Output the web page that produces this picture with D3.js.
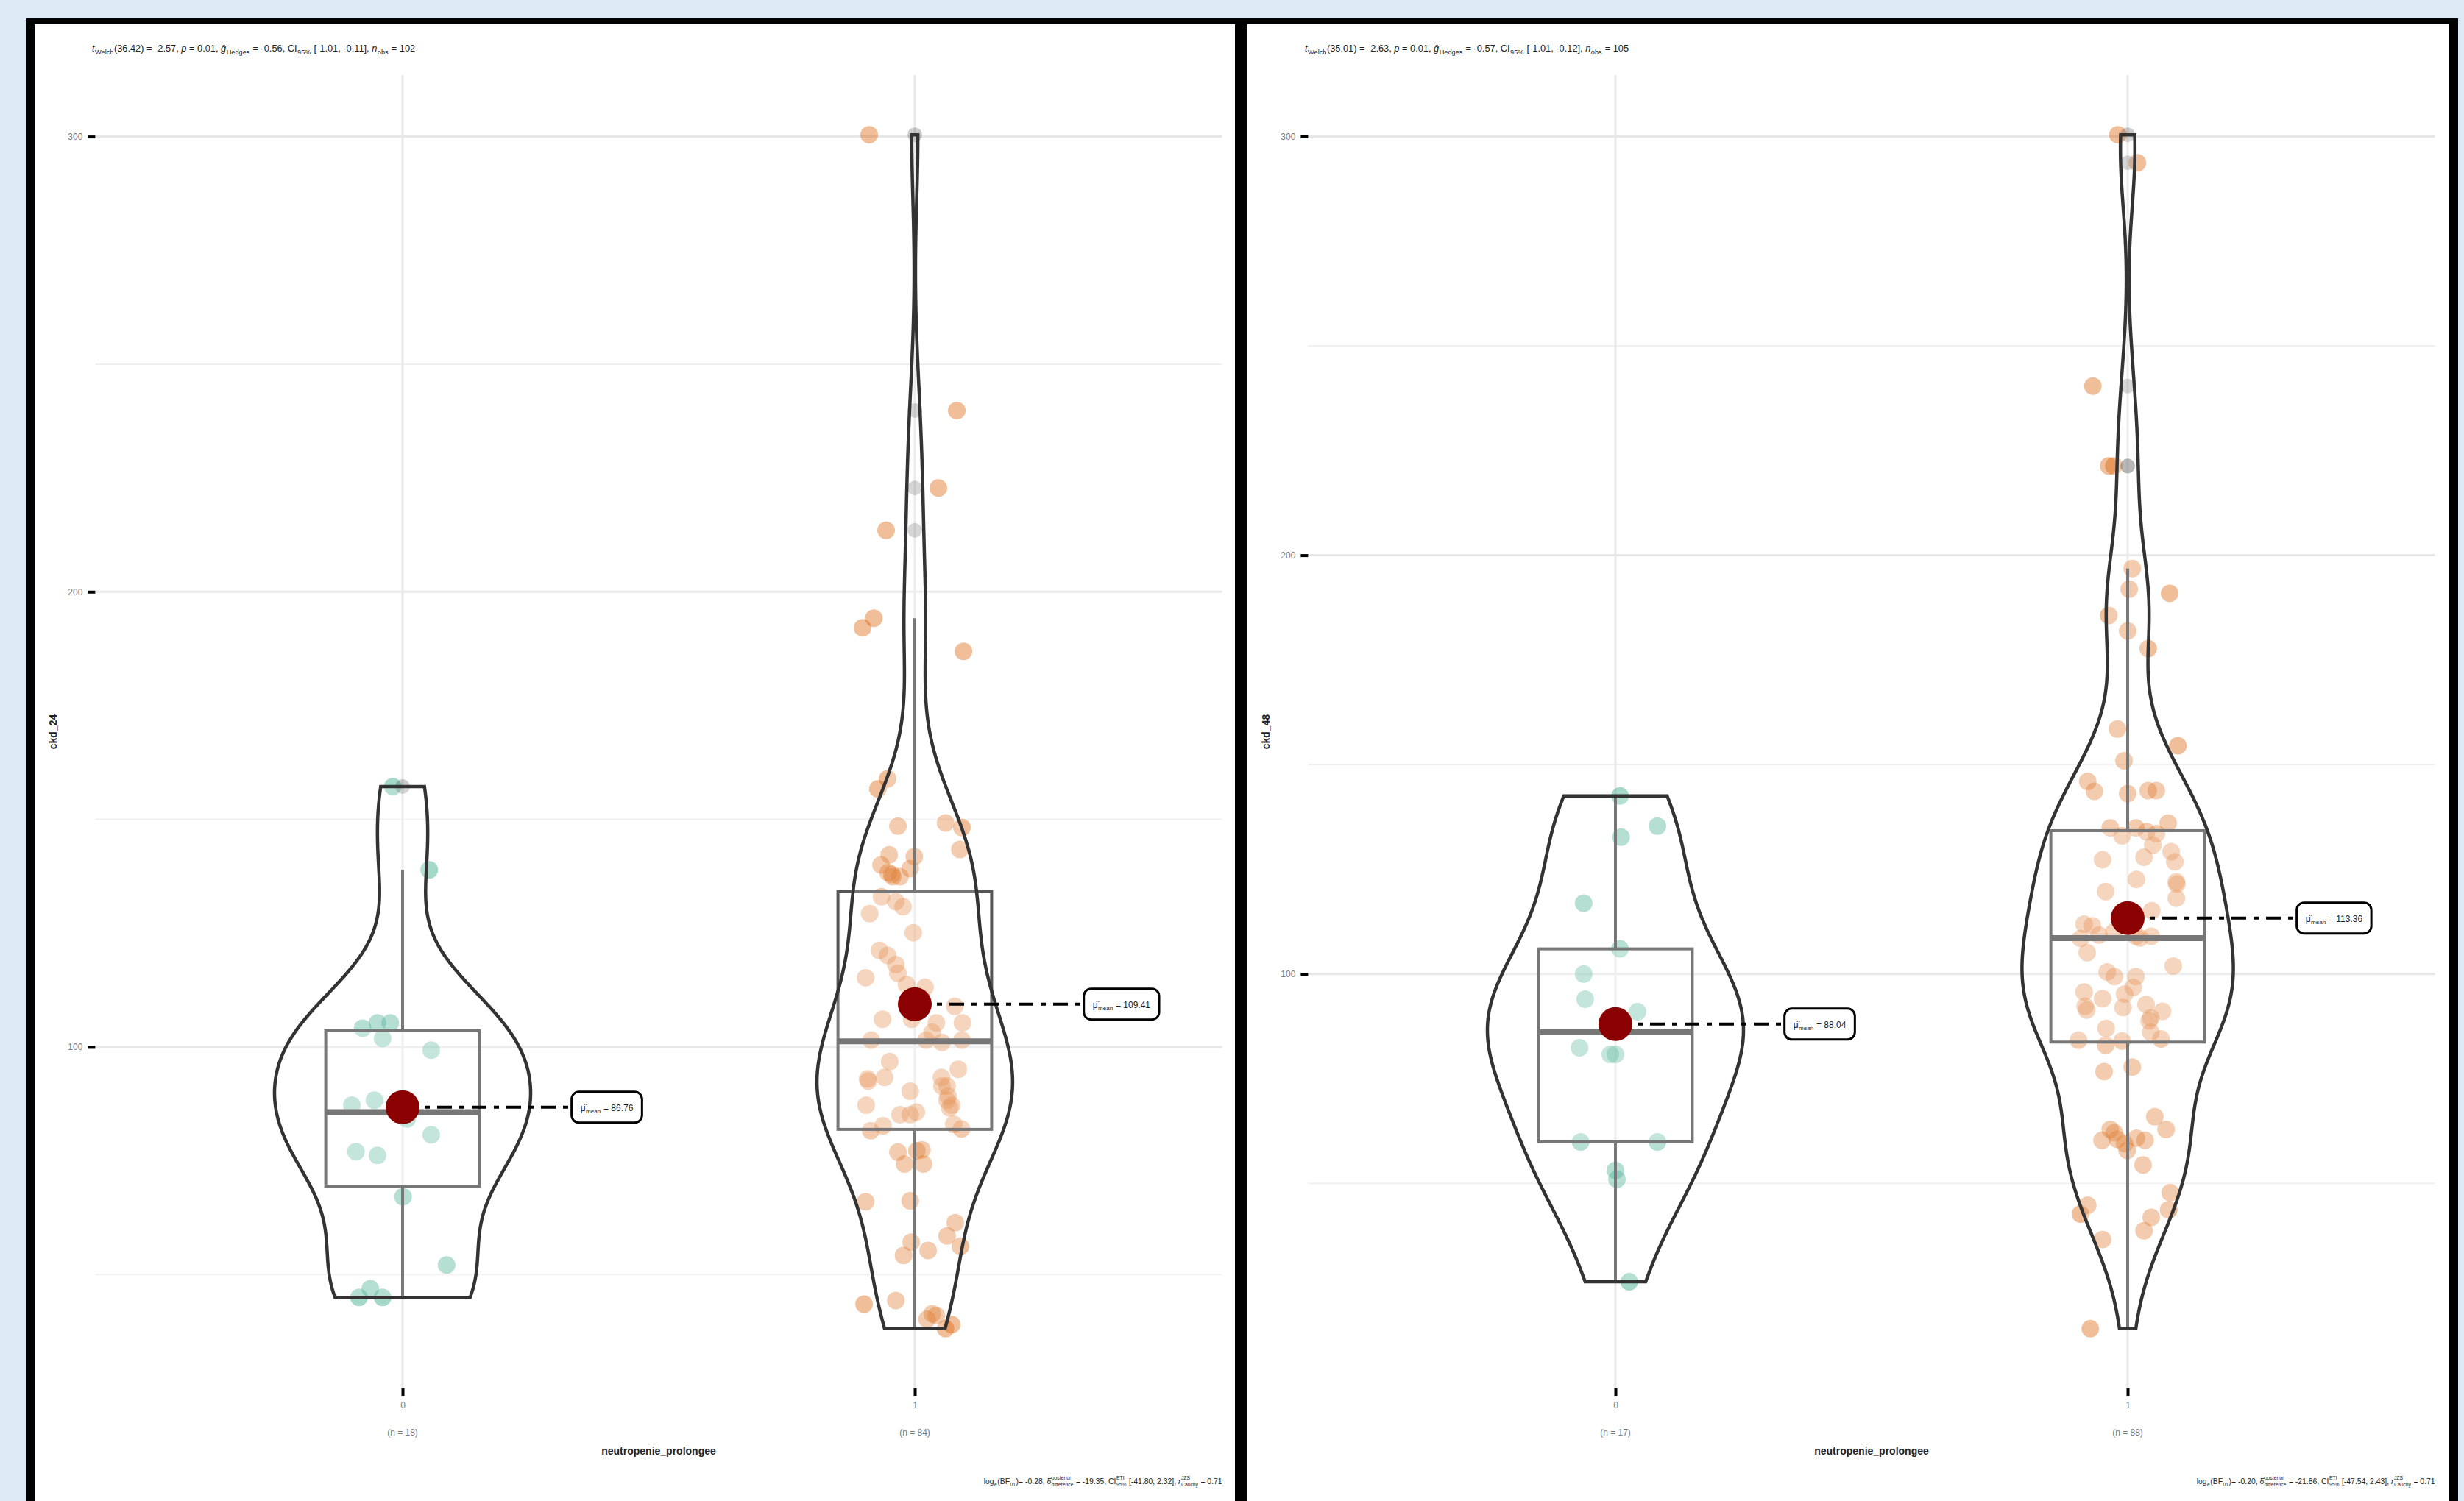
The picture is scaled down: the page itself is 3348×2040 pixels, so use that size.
<!DOCTYPE html>
<html>
<head>
<meta charset="utf-8">
<script src="https://cdn.jsdelivr.net/npm/d3@7"></script>
<style>
body { margin:0; background:#dde9f5; }
svg { display:block; }
text { white-space: pre; }
</style>
</head>
<body>
<script>
var W = 3348, H = 2040;

// ---- data ----
var groupLabels = ["0", "1"];
var groupColors = ["#1B9E77", "#D95F02"];
var xTitle = "neutropenie_prolongee";
var yTitles = ["ckd_24", "ckd_48"];
var yMajor = [100, 200, 300];
var yMinor = [50, 150, 250];

// ckd_24, group 0 / 1 (value, jitter in category units)
var ckd24_g0 = [157.2, 138.9, 104.1, 105.3, 105.3, 101.9, 99.3, 87.2, 88.3, 84.2, 80.7, 77.0, 76.2, 67.1, 52.1, 46.9, 45.0, 45.0];
var ckd24_g0_jit = [-0.019, 0.052, -0.078, -0.049, -0.024, -0.039, 0.056, -0.099, -0.055, 0.009, 0.056, -0.091, -0.049, 0.001, 0.086, -0.063, -0.085, -0.039];
var ckd24_g1 = [300.4, 239.8, 222.8, 213.5, 194.2, 192.1, 186.9,
  158.9, 156.7, 148.5, 149.2, 148.2, 143.4, 142.2, 141.8, 140.0, 138.3, 137.4, 137.4, 139.2, 137.9,
  133.0, 129.3, 130.8, 131.9, 125.1, 121.2, 120.1, 118.1, 116.2, 115.2, 113.7, 113.1, 108.9, 105.3, 105.3, 106.1, 106.1, 101.5, 101.5, 101.5, 103.2,
  101.0, 96.8, 93.0, 93.3, 93.3, 95.1, 91.4, 91.4, 92.5, 89.2, 90.3, 88.3, 87.2, 87.2, 86.6, 85.7, 85.1, 85.1, 83.0, 82.7,
  82.0, 81.6, 76.9, 77.2, 77.4, 74.3, 74.3, 66.0, 66.2, 61.4, 58.5, 56.2, 57.1, 55.3, 54.2, 43.5, 44.3, 41.4, 40.2, 41.0, 38.1, 39.0];
var ckd24_g1_jit = [-0.089, 0.082, 0.046, -0.056, -0.080, -0.102, 0.095,
  -0.053, -0.072, -0.033, 0.060, 0.092, 0.088, -0.050, -0.001, -0.066, -0.052, -0.043, -0.029, -0.009, -0.045,
  -0.065, -0.088, -0.023, -0.037, -0.003, -0.069, -0.053, -0.037, -0.033, -0.096, -0.016, 0.020, 0.078, 0.093, 0.042, -0.063, -0.006, -0.085, 0.022, 0.092, 0.034,
  0.053, -0.049, -0.092, -0.059, 0.052, 0.085, 0.063, 0.053, -0.091, 0.065, -0.009, 0.063, -0.095, 0.072, 0.068, 0.003, -0.029, -0.009, 0.076, -0.062,
  0.091, -0.086, -0.033, 0.004, 0.014, -0.020, 0.017, -0.096, -0.009, 0.079, 0.063, 0.089, -0.007, 0.026, -0.022, -0.099, -0.037, 0.034, 0.024, 0.042, 0.060, 0.072];

// ckd_48, group 0 / 1
var ckd48_g0 = [142.5, 132.7, 135.3, 116.9, 100.0, 106.0, 94.0, 91.0, 82.4, 80.8, 80.8, 59.9, 59.9, 53.1, 51.0, 26.5, 86.1];
var ckd48_g0_jit = [0.009, 0.011, 0.082, -0.062, -0.062, 0.009, -0.059, 0.043, -0.070, -0.010, 0.000, -0.068, 0.082, 0.000, 0.003, 0.027, 0.006];
var ckd48_g1 = [300.4, 293.7, 240.4, 221.3, 221.3, 196.8, 191.9, 190.9, 185.6, 181.9, 177.7,
  158.5, 154.5, 150.9, 146.0, 143.6, 143.1, 143.8, 143.8,
  134.9, 133.0, 134.9, 134.0, 133.5, 136.0,
  130.8, 127.9, 129.2, 126.8, 127.3, 122.0, 118.1, 122.6, 119.7, 115.1,
  111.9, 111.5, 109.3, 108.5, 105.1, 109.0, 109.0, 101.9, 100.5, 99.4,
  99.4, 96.8, 95.7, 94.1, 95.2, 92.0, 91.4, 92.7, 91.1, 88.8,
  87.0, 86.1, 84.5, 84.0, 84.2, 83.0, 76.7, 77.8, 65.9, 62.9,
  62.9, 62.1, 60.3, 60.8, 60.3, 59.5, 57.9, 54.4, 44.8, 42.7,
  47.8, 43.7, 41.9, 38.7, 36.6, 15.3,
  113.5, 121.5, 110.0, 108.6, 60.5, 92.3, 89.5];
var ckd48_g1_jit = [-0.019, 0.019, -0.068, -0.037, -0.027, 0.009, 0.003, 0.082, -0.037, 0.000, 0.040,
  -0.020, 0.098, -0.007, -0.078, -0.065, 0.000, 0.040, 0.056,
  -0.034, -0.011, 0.016, 0.037, 0.056, 0.079,
  0.049, 0.032, 0.085, 0.092, -0.049, 0.095, 0.095, 0.017, -0.043, 0.047,
  -0.085, -0.069, -0.056, -0.092, -0.079, 0.016, 0.046, 0.089, -0.040, -0.026,
  0.016, 0.011, -0.085, -0.049, -0.006, -0.009, -0.080, 0.036, 0.068, 0.042,
  -0.042, 0.045, 0.065, -0.011, -0.096, -0.043, -0.046, 0.009, 0.053, 0.075,
  -0.034, -0.026, -0.050, 0.017, 0.034, -0.006, -0.001, 0.030, -0.078, -0.092,
  0.083, 0.080, 0.046, 0.032, -0.049, -0.073,
  0.000, 0.096, -0.027, 0.024, -0.020, -0.083, 0.045];

// group means as printed in the labels
var means24 = [86.76, 109.41];
var means48 = [88.04, 113.36];

// test statistics (subtitle / caption)
var welchDf = [36.42, 35.01];
var tStat = [-2.57, -2.63];
var pValue = [0.01, 0.01];
var hedgesG = [-0.56, -0.57];
var ciLow = [-1.01, -1.01];
var ciHigh = [-0.11, -0.12];
var nObs = [102, 105];
var logBF = [-0.28, -0.20];
var deltaPost = [-19.35, -21.86];
var ciBLow = [-41.80, -47.54];
var ciBHigh = [2.32, 2.43];
var rCauchy = [0.71, 0.71];

// ---- layout ----
var panelOffsets = [0, 1648];
var plotLeft = 129.4, plotRight = 1660.6, plotTop = 102, plotBottom = 1887;
var narrow = "'Liberation Sans Narrow', 'Arial Narrow', sans-serif";
var sans = "'Liberation Sans', Arial, sans-serif";

var svg = d3.select("body").append("svg").attr("width", W).attr("height", H);
svg.append("rect").attr("width", W).attr("height", H).attr("fill", "#dde9f5");
svg.append("rect").attr("x", 36).attr("y", 25).attr("width", 3304).attr("height", H).attr("fill", "#000");
panelOffsets.forEach(function(o, i){
  svg.append("rect").attr("x", 47 + o).attr("y", 33).attr("width", i == 0 ? 1631 : 1633).attr("height", H).attr("fill", "#fff");
});

function f2(v){ return v.toFixed(2); }

// rich text: segments laid out one after another, sub/sup stacked after the main text
function richText(g, segs, x, y, size, small, family, color, anchorRight){
  var t = g.append("g");
  var cur = 0;
  segs.forEach(function(s){
    var w = 0;
    if (s.t){
      var el = t.append("text").attr("x", cur).attr("y", 0).text(s.t)
        .attr("font-size", size).attr("font-family", family).attr("fill", color)
        .attr("font-style", s.it ? "italic" : "normal");
      w = el.node().getComputedTextLength();
    }
    cur += w;
    var ws = 0;
    if (s.sub){
      var e1 = t.append("text").attr("x", cur + 0.5).attr("y", size * 0.3).text(s.sub)
        .attr("font-size", small).attr("font-family", family).attr("fill", color);
      ws = Math.max(ws, e1.node().getComputedTextLength());
    }
    if (s.sup){
      var e2 = t.append("text").attr("x", cur + 0.5).attr("y", -size * 0.55).text(s.sup)
        .attr("font-size", small).attr("font-family", family).attr("fill", color);
      ws = Math.max(ws, e2.node().getComputedTextLength());
    }
    if (ws) cur += ws + 1;
  });
  t.attr("transform", "translate(" + (anchorRight ? x - cur : x) + "," + y + ")");
  return cur;
}

function boxStats(vals){
  var s = vals.slice().sort(d3.ascending);
  var q1 = d3.quantileSorted(s, 0.25), med = d3.quantileSorted(s, 0.5), q3 = d3.quantileSorted(s, 0.75);
  var iqr = q3 - q1, lo = q1 - 1.5 * iqr, hi = q3 + 1.5 * iqr;
  return {
    q1: q1, med: med, q3: q3,
    wLo: d3.min(s.filter(function(v){ return v >= lo; })),
    wHi: d3.max(s.filter(function(v){ return v <= hi; })),
    out: s.filter(function(v){ return v < lo || v > hi; }),
    iqr: iqr
  };
}

// gaussian kde, bandwidth nrd0, trimmed to the data range
function kde(vals){
  var n = vals.length, st = boxStats(vals);
  var bw = 0.9 * Math.min(d3.deviation(vals), st.iqr / 1.34) * Math.pow(n, -0.2);
  var lo = d3.min(vals), hi = d3.max(vals);
  return d3.range(512).map(function(i){
    var v = lo + (hi - lo) * i / 511;
    var d = d3.sum(vals, function(x){ var z = (v - x) / bw; return Math.exp(-0.5 * z * z); }) / (n * bw * Math.sqrt(2 * Math.PI));
    return [v, d];
  });
}

var panels = [
  { yTitle: yTitles[0], vals: [ckd24_g0, ckd24_g1], jit: [ckd24_g0_jit, ckd24_g1_jit], means: means24 },
  { yTitle: yTitles[1], vals: [ckd48_g0, ckd48_g1], jit: [ckd48_g0_jit, ckd48_g1_jit], means: means48 }
];

panels.forEach(function(p, pi){
  var o = panelOffsets[pi];
  var g = svg.append("g");
  var all = p.vals[0].concat(p.vals[1]);
  var ext = d3.extent(all), pad = (ext[1] - ext[0]) * 0.05;
  var y = d3.scaleLinear().domain([ext[0] - pad, ext[1] + pad]).range([plotBottom, plotTop]);
  var x = d3.scaleLinear().domain([0.4, 2.6]).range([plotLeft + o, plotRight + o]);

  // grid
  g.selectAll(".minor").data(yMinor).enter().append("line")
    .attr("x1", x(0.4)).attr("x2", x(2.6)).attr("y1", y).attr("y2", y)
    .attr("stroke", "#f0f0f0").attr("stroke-width", 2);
  g.selectAll(".major").data(yMajor).enter().append("line")
    .attr("x1", x(0.4)).attr("x2", x(2.6)).attr("y1", y).attr("y2", y)
    .attr("stroke", "#e8e8e8").attr("stroke-width", 3);
  g.selectAll(".vgrid").data([1, 2]).enter().append("line")
    .attr("x1", x).attr("x2", x).attr("y1", plotTop).attr("y2", plotBottom)
    .attr("stroke", "#e8e8e8").attr("stroke-width", 3);

  // y axis
  var ya = g.append("g").attr("transform", "translate(" + x(0.4) + ",0)")
    .call(d3.axisLeft(y).tickValues(yMajor).tickSize(10).tickPadding(7));
  ya.select(".domain").remove();
  ya.selectAll(".tick line").attr("stroke", "#000").attr("stroke-width", 4);
  ya.selectAll(".tick text").attr("font-size", 12).attr("font-family", narrow).attr("fill", "#7a7a7a");

  // x axis
  var xa = g.append("g").attr("transform", "translate(0," + plotBottom + ")")
    .call(d3.axisBottom(x).tickValues([1, 2]).tickFormat(function(d){ return groupLabels[d - 1]; }).tickSize(10).tickPadding(8));
  xa.select(".domain").remove();
  xa.selectAll(".tick line").attr("stroke", "#000").attr("stroke-width", 4);
  xa.selectAll(".tick text").attr("font-size", 12).attr("font-family", narrow).attr("fill", "#7a7a7a");
  g.selectAll(".ncount").data(p.vals).enter().append("text")
    .attr("x", function(d, i){ return x(i + 1); }).attr("y", 1951)
    .attr("text-anchor", "middle").attr("font-size", 12).attr("font-family", narrow).attr("fill", "#7a7a7a")
    .text(function(d){ return "(n = " + d.length + ")"; });

  g.append("text").attr("x", (x(0.4) + x(2.6)) / 2).attr("y", 1977).attr("text-anchor", "middle")
    .attr("font-size", 14).attr("font-weight", "bold").attr("font-family", narrow).attr("fill", "#222")
    .text(xTitle);
  g.append("text").attr("transform", "translate(" + (77 + o) + "," + ((plotTop + plotBottom) / 2) + ") rotate(-90)")
    .attr("text-anchor", "middle").attr("font-size", 14).attr("font-weight", "bold").attr("font-family", narrow).attr("fill", "#222")
    .text(p.yTitle);

  // points
  p.vals.forEach(function(vals, gi){
    g.selectAll(".pt" + gi).data(vals).enter().append("circle")
      .attr("cx", function(d, i){ return x(gi + 1 + p.jit[gi][i]); })
      .attr("cy", function(d){ return y(d); })
      .attr("r", 12).attr("fill", groupColors[gi]).attr("fill-opacity", 0.4);
  });

  // boxplots + violins
  var dens = p.vals.map(kde);
  var maxD = d3.max(dens, function(d){ return d3.max(d, function(e){ return e[1]; }); });
  p.vals.forEach(function(vals, gi){
    var c = gi + 1, st = boxStats(vals);
    var bg = g.append("g");
    bg.append("line").attr("x1", x(c)).attr("x2", x(c)).attr("y1", y(st.q3)).attr("y2", y(st.wHi))
      .attr("stroke", "#555").attr("stroke-width", 4);
    bg.append("line").attr("x1", x(c)).attr("x2", x(c)).attr("y1", y(st.q1)).attr("y2", y(st.wLo))
      .attr("stroke", "#555").attr("stroke-width", 4);
    bg.append("rect").attr("x", x(c - 0.15)).attr("width", x(c + 0.15) - x(c - 0.15))
      .attr("y", y(st.q3)).attr("height", y(st.q1) - y(st.q3))
      .attr("fill", "#fff").attr("fill-opacity", 0.2).attr("stroke", "#555").attr("stroke-width", 4);
    bg.append("line").attr("x1", x(c - 0.15)).attr("x2", x(c + 0.15)).attr("y1", y(st.med)).attr("y2", y(st.med))
      .attr("stroke", "#555").attr("stroke-width", 8);
    bg.selectAll("circle").data(st.out).enter().append("circle")
      .attr("cx", x(c)).attr("cy", function(d){ return y(d); }).attr("r", 10)
      .attr("fill", "#333").attr("fill-opacity", 0.25);

    var area = d3.area()
      .y(function(d){ return y(d[0]); })
      .x0(function(d){ return x(c - 0.25 * d[1] / maxD); })
      .x1(function(d){ return x(c + 0.25 * d[1] / maxD); });
    g.append("path").datum(dens[gi]).attr("d", area)
      .attr("fill", "#fff").attr("fill-opacity", 0.2).attr("stroke", "#333").attr("stroke-width", 4.5);
  });

  // means + labels
  p.means.forEach(function(m, gi){
    var c = gi + 1, lx = x(c + 0.33), my = y(m);
    g.append("line").attr("x1", x(c)).attr("x2", lx).attr("y1", my).attr("y2", my)
      .attr("stroke", "#000").attr("stroke-width", 4).attr("stroke-dasharray", "20,10,7,10");
    g.append("circle").attr("cx", x(c)).attr("cy", my).attr("r", 23).attr("fill", "#8b0000");
    var lg = g.append("g");
    var rect = lg.append("rect").attr("y", my - 21).attr("height", 42).attr("rx", 10)
      .attr("fill", "#fff").attr("stroke", "#000").attr("stroke-width", 3);
    var tw = richText(lg, [{ t: "μ\u0302", sub: "mean" }, { t: " = " + f2(m) }], lx + 12, my + 5, 12, 8, sans, "#222", false);
    rect.attr("x", lx).attr("width", tw + 24);
  });

  // subtitle and caption
  richText(g, [
    { t: "t", it: 1, sub: "Welch" }, { t: "(" + f2(welchDf[pi]) + ") = " + f2(tStat[pi]) + ", " },
    { t: "p", it: 1 }, { t: " = " + f2(pValue[pi]) + ", " },
    { t: "ĝ", it: 1, sub: "Hedges" }, { t: " = " + f2(hedgesG[pi]) + ", CI", sub: "95%" },
    { t: " [" + f2(ciLow[pi]) + ", " + f2(ciHigh[pi]) + "], " },
    { t: "n", it: 1, sub: "obs" }, { t: " = " + nObs[pi] }
  ], 125 + o, 70, 12.8, 9.2, narrow, "#222", false);

  richText(g, [
    { t: "log", sub: "e" }, { t: "(BF", sub: "01" }, { t: ")= " + f2(logBF[pi]) + ", " },
    { t: "δ\u0302", sup: "posterior", sub: "difference" }, { t: " = " + f2(deltaPost[pi]) + ", CI", sup: "ETI", sub: "95%" },
    { t: " [" + f2(ciBLow[pi]) + ", " + f2(ciBHigh[pi]) + "], " },
    { t: "r", it: 1, sup: "JZS", sub: "Cauchy" }, { t: " = " + f2(rCauchy[pi]) }
  ], x(2.6), 2017, 10.4, 6.8, sans, "#222", true);
});
</script>
</body>
</html>
